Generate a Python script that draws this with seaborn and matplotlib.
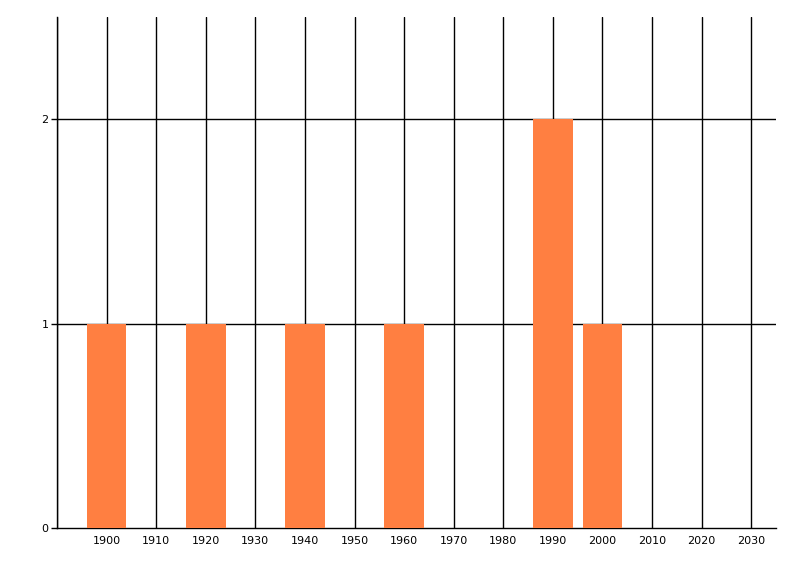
import pandas as pd
import matplotlib
matplotlib.use("Agg")
import matplotlib.pyplot as plt
import seaborn as sns

# counts per year
years = [1900, 1920, 1940, 1960, 1990, 2000]
counts = [1, 1, 1, 1, 2, 1]
x_ticks = list(range(1900, 2031, 10))
y_ticks = [0, 1, 2]

df = pd.DataFrame({"year": years, "count": counts})

sns.set_style("white")
plt.rcParams["font.family"] = ["DejaVu Sans"]

fig = plt.figure(figsize=(8, 5.76), dpi=100)
ax = fig.add_axes([57 / 800, 48 / 576, (776 - 57) / 800, (528 - 17) / 576])

sns.barplot(data=df, x="year", y="count", native_scale=True, width=0.8,
            color="#FF7F41", saturation=1, linewidth=0, edgecolor="none",
            ax=ax, zorder=3)

ax.set_xlim(1890, 2035)
ax.set_ylim(0, 2.5)
ax.set_xticks(x_ticks)
ax.set_xticklabels([str(t) for t in x_ticks])
ax.set_yticks(y_ticks)

# grid lines in black, behind the bars
for t in range(1890, 2031, 10):
    ax.axvline(t, color="black", lw=1, zorder=1)
for t in [1, 2]:
    ax.axhline(t, color="black", lw=1, zorder=1)

for side in ["top", "right"]:
    ax.spines[side].set_visible(False)
for side in ["left", "bottom"]:
    ax.spines[side].set_color("black")
    ax.spines[side].set_linewidth(1)

ax.tick_params(axis="x", length=0, pad=6, labelsize=8, colors="black")
ax.tick_params(axis="y", length=4, width=1, left=True, pad=2, labelsize=8, colors="black")
ax.set_xlabel("")
ax.set_ylabel("")

fig.savefig("out.png", dpi=100)
